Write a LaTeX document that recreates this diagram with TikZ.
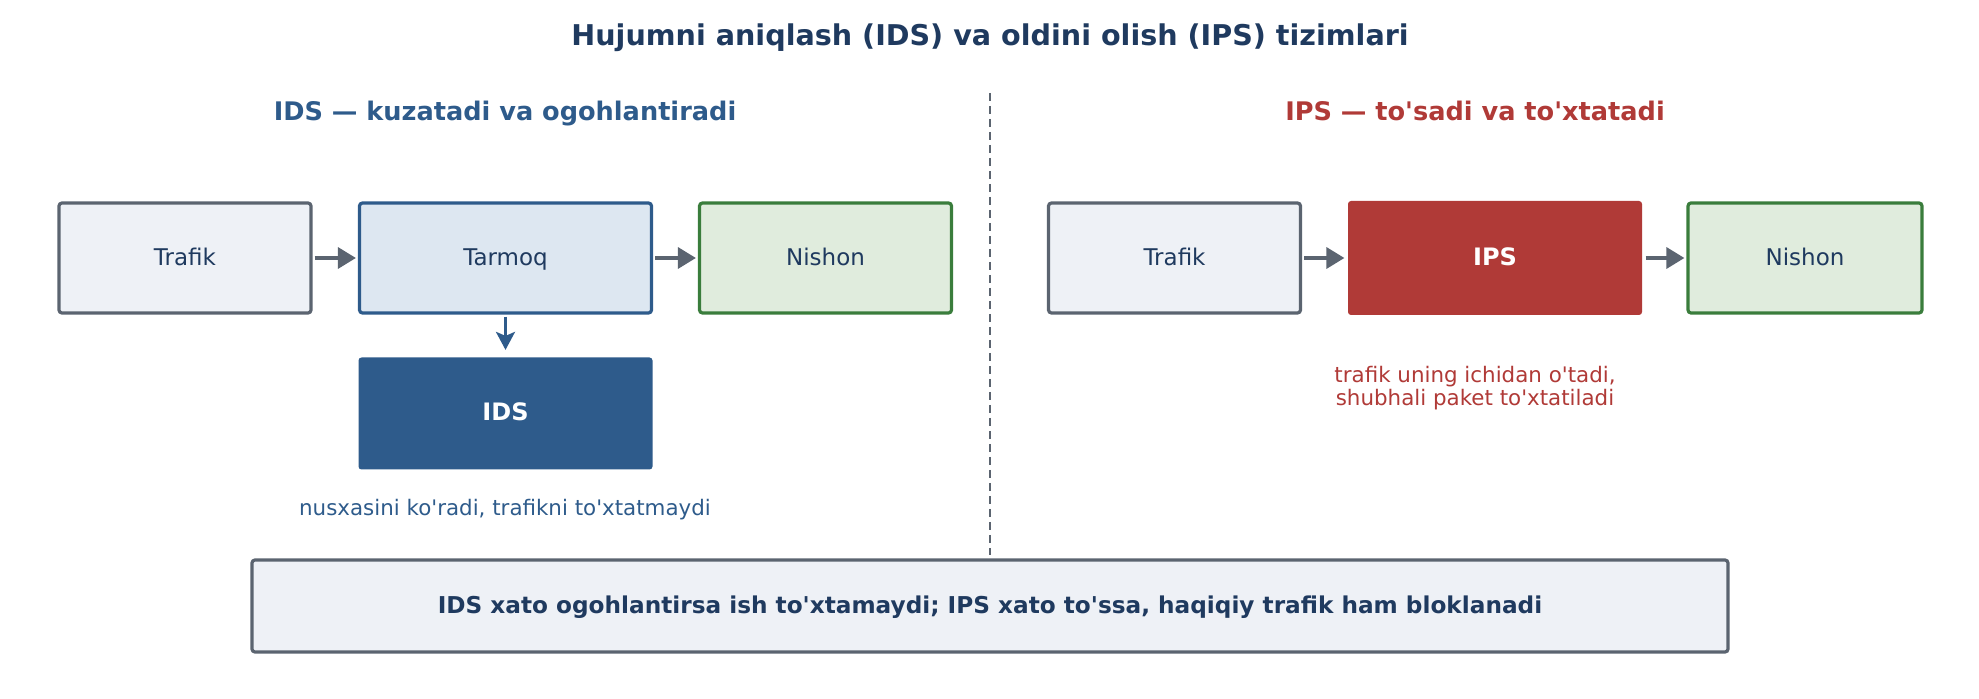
\documentclass[tikz,border=0pt]{standalone}
\usepackage{fontspec}
\setmainfont{DejaVu Sans}[Ligatures=TeXOff]
\usepackage{xcolor}
\usetikzlibrary{positioning,arrows.meta}

\definecolor{navy}{HTML}{1F3A5F}
\definecolor{slate}{HTML}{5B6470}
\definecolor{paleslate}{HTML}{EEF1F6}
\definecolor{idsblue}{HTML}{2E5B8B}
\definecolor{paleblue}{HTML}{DDE7F1}
\definecolor{okgreen}{HTML}{3A7D3C}
\definecolor{palegreen}{HTML}{E0ECDD}
\definecolor{ipsred}{HTML}{B03A37}

\tikzset{
  mid/.style={text height=0.74em, text depth=0pt},
  box/.style={draw, rounded corners=1.5pt, line width=1.6pt, minimum height=55pt, mid,
    font=\fontsize{11.5}{14}\selectfont, text=navy},
  plainbox/.style={box, draw=slate, fill=paleslate, minimum width=126pt},
  netbox/.style={box, draw=idsblue, fill=paleblue, minimum width=146pt},
  goalbox/.style={box, draw=okgreen, fill=palegreen},
  darkbox/.style={box, draw=none, text=white, font=\fontsize{12}{14}\selectfont\bfseries},
  flow/.style={draw=slate, line width=1.7pt, -{Triangle[length=9pt,width=10.5pt]}, shorten <=1pt, shorten >=1pt},
  tap/.style={draw=idsblue, line width=1.4pt, -{Stealth[length=9pt,width=9.5pt,inset=2pt]}, shorten <=1pt, shorten >=3pt},
  heading/.style={font=\fontsize{12.8}{15}\selectfont\bfseries, mid},
  note/.style={font=\fontsize{10.7}{11.7}\selectfont, align=center}
}

\begin{document}
\begin{tikzpicture}[x=0.5pt,y=-0.5pt]
  \useasboundingbox (0,0) rectangle (1979,699);
  \node[font=\fontsize{14.3}{16}\selectfont\bfseries, text=navy, mid] (title) at (990,38)
    {Hujumni aniqlash (IDS) va oldini olish (IPS) tizimlari};

  % IDS side
  \node[heading, text=idsblue] (idshead) at (505,113) {IDS — kuzatadi va ogohlantiradi};
  \node[plainbox] (trafA) at (185,258) {Trafik};
  \node[netbox] (net) at (505.5,258) {Tarmoq};
  \node[goalbox, minimum width=126pt] (goalA) at (825.5,258) {Nishon};
  \node[darkbox, fill=idsblue, minimum width=147pt, minimum height=56pt] (ids) at (505.5,413.5) {IDS};
  \node[note, text=idsblue] (idsnote) at (505,510) {nusxasini ko'radi, trafikni to'xtatmaydi};
  \draw[flow] (trafA) -- (net);
  \draw[flow] (net) -- (goalA);
  \draw[tap] (net) -- (ids);

  % divider
  \coordinate (dtop) at (990,93);
  \coordinate (dbot) at (990,555);
  \draw[slate, line width=1.2pt, dash pattern=on 4pt off 2.5pt] (dtop) -- (dbot);

  % IPS side
  \node[heading, text=ipsred] (ipshead) at (1475,113) {IPS — to'sadi va to'xtatadi};
  \node[plainbox] (trafB) at (1174.5,258) {Trafik};
  \node[darkbox, fill=ipsred, minimum width=147pt, minimum height=57pt] (ips) at (1495,258) {IPS};
  \node[goalbox, minimum width=117pt] (goalB) at (1805,258) {Nishon};
  \node[note, text=ipsred] (ipsnote) at (1475,388) {trafik uning ichidan o'tadi,\\shubhali paket to'xtatiladi};
  \draw[flow] (trafB) -- (ips);
  \draw[flow] (ips) -- (goalB);

  % summary
  \node[box, draw=slate, fill=paleslate, minimum width=738pt, minimum height=46pt,
    font=\fontsize{11.6}{14}\selectfont\bfseries] (summary) at (990,606)
    {IDS xato ogohlantirsa ish to'xtamaydi; IPS xato to'ssa, haqiqiy trafik ham bloklanadi};
\end{tikzpicture}
\end{document}
